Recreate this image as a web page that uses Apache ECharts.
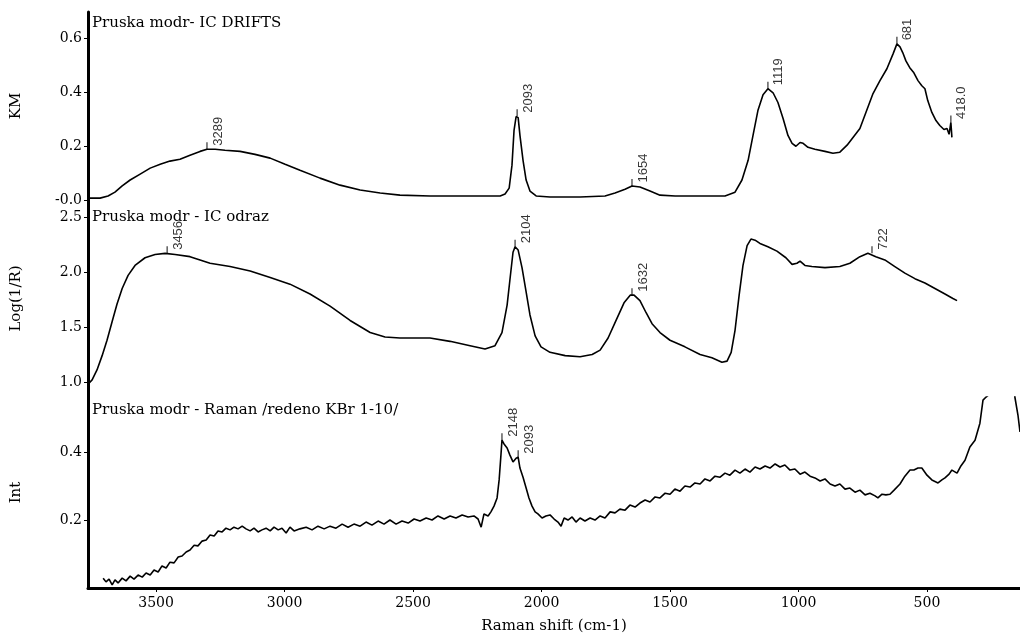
<!DOCTYPE html>
<html><head><meta charset="utf-8">
<script src="https://cdn.jsdelivr.net/npm/echarts@6/dist/echarts.min.js"></script>
<style>html,body{margin:0;padding:0;background:#fff}#c{width:1020px;height:638px}</style>
</head><body><div id="c"></div>
<script>
const xTicks = [3500, 3000, 2500, 2000, 1500, 1000, 500];
const kmTicks = [0, 0.2, 0.4, 0.6];
const logTicks = [1.0, 1.5, 2.0, 2.5];
const intTicks = [0.2, 0.4];
const panelTitles = ['Pruska modr- IC DRIFTS', 'Pruska modr - IC odraz', 'Pruska modr - Raman /redeno KBr 1-10/'];
const axisNames = ['KM', 'Log(1/R)', 'Int'];
const xName = 'Raman shift (cm-1)';

const drifts = [[3765,0.007],[3718,0.007],[3687,0.015],[3660,0.029],[3632,0.052],[3601,0.074],[3562,0.096],[3523,0.118],[3484,0.132],[3446,0.144],[3407,0.151],[3368,0.166],[3329,0.180],[3302,0.188],[3270,0.188],[3232,0.184],[3173,0.180],[3115,0.169],[3056,0.155],[2998,0.132],[2940,0.110],[2862,0.081],[2784,0.055],[2706,0.037],[2628,0.026],[2551,0.018],[2434,0.015],[2317,0.015],[2200,0.015],[2161,0.015],[2142,0.022],[2126,0.044],[2115,0.129],[2107,0.258],[2099,0.309],[2091,0.305],[2084,0.239],[2072,0.147],[2060,0.074],[2045,0.033],[2021,0.015],[1967,0.011],[1850,0.011],[1753,0.015],[1714,0.026],[1675,0.040],[1648,0.052],[1617,0.048],[1578,0.033],[1539,0.018],[1480,0.015],[1383,0.015],[1286,0.015],[1247,0.029],[1220,0.074],[1196,0.147],[1177,0.239],[1158,0.331],[1138,0.390],[1119,0.412],[1099,0.397],[1080,0.361],[1060,0.302],[1041,0.239],[1025,0.210],[1010,0.199],[994,0.213],[982,0.210],[963,0.195],[936,0.188],[897,0.180],[866,0.173],[839,0.177],[811,0.203],[761,0.265],[710,0.394],[683,0.442],[656,0.486],[632,0.541],[617,0.578],[605,0.567],[594,0.545],[582,0.515],[567,0.490],[551,0.471],[535,0.442],[520,0.423],[508,0.412],[497,0.368],[481,0.324],[465,0.294],[450,0.276],[434,0.261],[422,0.265],[414,0.243],[407,0.287],[403,0.232]];

const odraz = [[3765,0.98],[3749,1.02],[3730,1.11],[3710,1.24],[3691,1.38],[3671,1.55],[3652,1.71],[3632,1.85],[3609,1.97],[3582,2.06],[3543,2.13],[3504,2.16],[3465,2.17],[3426,2.16],[3368,2.14],[3290,2.08],[3212,2.05],[3134,2.01],[3056,1.95],[2979,1.89],[2901,1.80],[2823,1.69],[2745,1.56],[2667,1.45],[2609,1.41],[2551,1.40],[2434,1.40],[2356,1.37],[2278,1.33],[2220,1.30],[2181,1.33],[2154,1.45],[2134,1.70],[2123,1.93],[2111,2.18],[2103,2.23],[2091,2.20],[2076,2.04],[2060,1.82],[2045,1.61],[2025,1.42],[2002,1.32],[1967,1.27],[1908,1.24],[1850,1.23],[1803,1.25],[1772,1.29],[1741,1.40],[1710,1.56],[1679,1.72],[1655,1.79],[1640,1.79],[1617,1.74],[1593,1.63],[1570,1.53],[1539,1.45],[1500,1.38],[1442,1.32],[1383,1.25],[1337,1.22],[1298,1.18],[1278,1.19],[1262,1.27],[1247,1.47],[1231,1.79],[1216,2.06],[1200,2.24],[1185,2.30],[1169,2.29],[1150,2.26],[1119,2.23],[1084,2.19],[1049,2.13],[1025,2.07],[1006,2.08],[994,2.10],[975,2.06],[948,2.05],[897,2.04],[839,2.05],[800,2.08],[761,2.14],[730,2.17],[699,2.14],[664,2.11],[625,2.05],[586,1.99],[547,1.94],[508,1.90],[469,1.85],[430,1.80],[399,1.76],[383,1.74]];

const raman = [[3706,0.029],[3695,0.018],[3683,0.026],[3671,0.009],[3660,0.024],[3648,0.015],[3632,0.029],[3617,0.021],[3601,0.035],[3586,0.026],[3570,0.038],[3554,0.032],[3539,0.044],[3523,0.038],[3508,0.053],[3492,0.047],[3477,0.065],[3461,0.059],[3446,0.076],[3430,0.074],[3414,0.091],[3399,0.094],[3383,0.106],[3368,0.112],[3352,0.126],[3337,0.124],[3321,0.138],[3305,0.141],[3290,0.156],[3274,0.153],[3259,0.168],[3243,0.165],[3228,0.176],[3212,0.171],[3197,0.179],[3181,0.174],[3165,0.182],[3150,0.174],[3134,0.168],[3119,0.176],[3103,0.165],[3088,0.171],[3072,0.176],[3056,0.168],[3041,0.179],[3025,0.171],[3010,0.176],[2994,0.162],[2979,0.179],[2963,0.168],[2940,0.174],[2916,0.179],[2893,0.171],[2870,0.182],[2846,0.174],[2823,0.182],[2800,0.176],[2776,0.188],[2753,0.179],[2730,0.188],[2706,0.182],[2683,0.194],[2660,0.185],[2636,0.197],[2613,0.188],[2590,0.200],[2566,0.188],[2543,0.197],[2519,0.191],[2496,0.203],[2473,0.197],[2449,0.206],[2426,0.200],[2403,0.212],[2379,0.203],[2356,0.212],[2333,0.206],[2309,0.215],[2286,0.209],[2263,0.212],[2247,0.203],[2235,0.179],[2224,0.218],[2208,0.212],[2197,0.224],[2185,0.241],[2173,0.265],[2165,0.318],[2158,0.391],[2154,0.435],[2146,0.424],[2134,0.412],[2123,0.391],[2111,0.371],[2099,0.382],[2091,0.385],[2084,0.353],[2072,0.326],[2060,0.294],[2049,0.265],[2037,0.241],[2025,0.224],[2014,0.218],[1998,0.206],[1983,0.212],[1967,0.215],[1951,0.203],[1936,0.194],[1924,0.182],[1912,0.206],[1897,0.200],[1881,0.209],[1866,0.194],[1850,0.206],[1831,0.197],[1811,0.206],[1792,0.200],[1772,0.212],[1753,0.206],[1733,0.224],[1714,0.221],[1695,0.232],[1675,0.229],[1656,0.244],[1636,0.238],[1617,0.250],[1597,0.259],[1578,0.253],[1558,0.268],[1539,0.265],[1519,0.279],[1500,0.276],[1481,0.291],[1461,0.285],[1442,0.300],[1422,0.297],[1403,0.309],[1383,0.306],[1364,0.321],[1344,0.315],[1325,0.329],[1305,0.326],[1286,0.338],[1267,0.332],[1247,0.347],[1228,0.338],[1208,0.350],[1189,0.341],[1169,0.356],[1150,0.350],[1130,0.359],[1111,0.353],[1091,0.365],[1072,0.356],[1053,0.362],[1033,0.347],[1014,0.350],[994,0.335],[975,0.341],[955,0.329],[936,0.324],[916,0.315],[897,0.321],[877,0.306],[858,0.300],[839,0.306],[819,0.291],[800,0.294],[780,0.282],[761,0.288],[741,0.274],[722,0.279],[702,0.271],[691,0.265],[675,0.276],[660,0.274],[644,0.276],[628,0.288],[605,0.306],[586,0.329],[566,0.347],[551,0.347],[535,0.353],[520,0.353],[500,0.332],[481,0.318],[457,0.309],[442,0.318],[430,0.324],[414,0.335],[403,0.347],[383,0.338],[368,0.359],[352,0.376],[333,0.415],[313,0.435],[294,0.485],[282,0.553],[270,0.562],[255,0.571],[228,0.641],[196,0.671],[169,0.618],[158,0.562],[146,0.509],[138,0.459]];

const driftsPeaks = [[3302,0.188,'3289'],[2095,0.31,'2093'],[1648,0.052,'1654'],[1119,0.412,'1119'],[617,0.578,'681'],[407,0.287,'418.0']];
const odrazPeaks = [[3457,2.17,'3456'],[2103,2.23,'2104'],[1648,1.79,'1632'],[714,2.17,'722']];
const ramanPeaks = [[2154,0.435,'2148'],[2091,0.385,'2093']];

const X_MIN = 138, X_MAX = 3765;
const serif = 'DejaVu Serif';
const grids = [
  {left: 88, right: 0, top: 12, height: 188},
  {left: 88, right: 0, top: 200, height: 197},
  {left: 88, right: 0, top: 397, height: 191}
];
const yRanges = [[0, 0.696], [0.864, 2.655], [0, 0.562]];
const yTickSets = [kmTicks, logTicks, intTicks];
const yFmt = [v => (v === 0 ? '-0.0' : v.toFixed(1)), v => v.toFixed(1), v => v.toFixed(1)];

const xAxes = grids.map((g, i) => ({
  type: 'value', gridIndex: i, min: X_MIN, max: X_MAX, inverse: true,
  show: i === 2,
  name: i === 2 ? xName : '', nameLocation: 'middle', nameGap: 31,
  nameTextStyle: {fontFamily: serif, fontSize: 15, color: '#000'},
  axisLine: {show: true, lineStyle: {color: '#000', width: 3}},
  axisTick: {show: true, length: 4, lineStyle: {color: '#000', width: 1}, customValues: xTicks},
  axisLabel: {show: true, margin: 8, fontFamily: serif, fontSize: 14, color: '#000', customValues: xTicks,
    formatter: v => String(Math.round(v))},
  splitLine: {show: false}
}));

const yAxes = grids.map((g, i) => ({
  type: 'value', gridIndex: i, min: yRanges[i][0], max: yRanges[i][1],
  name: axisNames[i], nameLocation: 'middle', nameRotate: 90, nameGap: 64,
  nameTextStyle: {fontFamily: serif, fontSize: 15, color: '#000'},
  axisLine: {show: true, onZero: false, lineStyle: {color: '#000', width: 3}},
  axisTick: {show: true, length: 4, lineStyle: {color: '#000', width: 1}, customValues: yTickSets[i]},
  axisLabel: {show: true, margin: 6, fontFamily: serif, fontSize: 14, color: '#000', customValues: yTickSets[i], formatter: yFmt[i]},
  splitLine: {show: false}
}));

function lineSeries(data, i) {
  return {type: 'line', xAxisIndex: i, yAxisIndex: i, data: data, showSymbol: false, symbol: 'none',
    lineStyle: {color: '#000', width: 1.6}, clip: true, silent: true};
}
function peakSeries(peaks, i) {
  return {type: 'scatter', xAxisIndex: i, yAxisIndex: i, silent: true,
    symbol: 'rect', symbolSize: [1.2, 7], symbolOffset: [0, -3.5],
    itemStyle: {color: '#000'},
    data: peaks.map(p => ({value: [p[0], p[1]], name: p[2]})),
    label: {show: true, position: 'inside', rotate: 90, align: 'left', verticalAlign: 'middle',
      offset: [0, 11], formatter: '{b}', fontFamily: 'Liberation Sans', fontSize: 13, color: '#000'}
  };
}

const option = {
  animation: false,
  backgroundColor: '#fff',
  title: panelTitles.map((t, i) => ({text: t, left: 92, top: [16, 210, 403][i], padding: 0,
    textStyle: {fontFamily: serif, fontSize: 15, fontWeight: 'normal', color: '#000'}})),
  grid: grids,
  xAxis: xAxes,
  yAxis: yAxes,
  series: [
    lineSeries(drifts, 0), lineSeries(odraz, 1), lineSeries(raman, 2),
    peakSeries(driftsPeaks, 0), peakSeries(odrazPeaks, 1), peakSeries(ramanPeaks, 2)
  ]
};
const chart = echarts.init(document.getElementById('c'), null, {renderer: 'canvas'});
chart.setOption(option);
</script></body></html>
